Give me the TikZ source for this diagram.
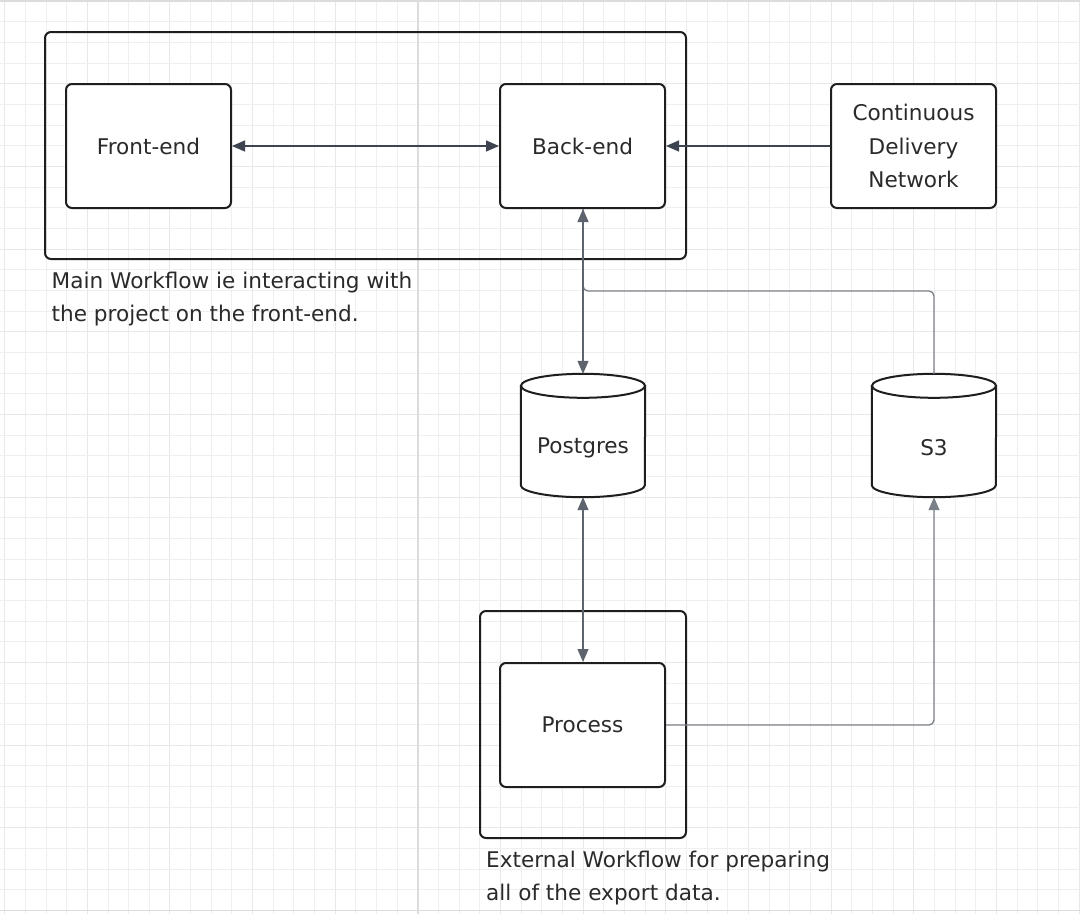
\documentclass[tikz,border=0pt]{standalone}
\usepackage{fontspec}
\setmainfont{DejaVu Sans}
\usetikzlibrary{arrows.meta}
\definecolor{gridminor}{HTML}{EFEFEF}
\definecolor{gridmajor}{HTML}{E8E8E8}
\definecolor{gridpage}{HTML}{DCDCDC}
\definecolor{boxline}{HTML}{1E1E1E}
\definecolor{txt}{HTML}{2A2A2A}
\definecolor{arrowdark}{HTML}{3D4450}
\definecolor{connlight}{HTML}{7B8088}
\definecolor{connmid}{HTML}{5E646E}
\tikzset{
  box/.style={draw=boxline, line width=2pt, rounded corners=6pt, fill=white,
    minimum width=165pt, minimum height=124pt, inner sep=0pt, text=txt,
    font=\fontsize{21.6}{33.5}\selectfont, align=center},
  group/.style={draw=boxline, line width=2pt, rounded corners=6pt, inner sep=0pt},
  cylnode/.style={minimum width=124pt, minimum height=123pt, inner sep=0pt,
    text=txt, font=\fontsize{21.6}{24}\selectfont},
  cylline/.style={draw=boxline, line width=2pt, fill=white},
  note/.style={anchor=base west, inner sep=0pt, text=txt, align=left,
    font=\fontsize{21.6}{33}\selectfont},
  tip/.tip={Triangle[length=13pt,width=11pt]},
  conn/.style={draw=arrowdark, line width=1.3pt, tip-tip},
  connl/.style={draw=connlight, line width=1.3pt, rounded corners=5pt},
}
\newcommand{\cylout}[1]{%
  \path[cylline] ([yshift=-12pt]#1.north west) -- ([yshift=12pt]#1.south west)
    arc[start angle=180, end angle=360, x radius=62pt, y radius=12pt]
    -- ([yshift=-12pt]#1.north east) -- cycle;
  \path[cylline] ([yshift=-12pt]#1.north) ellipse[x radius=62pt, y radius=12pt];
}
\begin{document}
\begin{tikzpicture}[x=1pt, y=-1pt]
\useasboundingbox (0,0) rectangle (1080,914);
\fill[white] (0,0) rectangle (1080,914);
% grid
\foreach \i in {0,...,52} {
  \pgfmathsetmacro{\xx}{4.7+\i*20.66}
  \pgfmathtruncatemacro{\m}{mod(\i,4)}
  \ifnum\m=0
    \draw[gridmajor, line width=1pt] (\xx,0) -- (\xx,914);
  \else
    \draw[gridminor, line width=1pt] (\xx,0) -- (\xx,914);
  \fi
}
\foreach \i in {0,...,44} {
  \pgfmathsetmacro{\yy}{1.3+\i*20.66}
  \pgfmathtruncatemacro{\m}{mod(\i,4)}
  \ifnum\m=0
    \draw[gridmajor, line width=1pt] (0,\yy) -- (1080,\yy);
  \else
    \draw[gridminor, line width=1pt] (0,\yy) -- (1080,\yy);
  \fi
}
\draw[gridpage, line width=1.5pt] (417.9,0) -- (417.9,914);
\draw[gridpage, line width=1.5pt] (0,910.3) -- (1080,910.3);
\draw[gridpage, line width=1.5pt] (0,1) -- (1080,1);

% group boxes
\node[group, minimum width=641pt, minimum height=227pt] (mainwf) at (365.5,145.5) {};
\node[group, minimum width=206pt, minimum height=227pt] (extwf) at (583,724.5) {};

% nodes
\node[box] (front) at (148.5,146) {Front-end};
\node[box] (back) at (582.5,146) {Back-end};
\node[box] (cdn) at (913.5,146) {Continuous\\Delivery\\Network};
\node[box] (proc) at (582.5,725) {Process};

\node[cylnode] (pg) at (583,435.5) {};
\cylout{pg}
\node[cylnode] (pglabel) at ([yshift=-12.5pt]pg.center) {Postgres};
\node[cylnode] (s3) at (934,435.5) {};
\cylout{s3}
\node[cylnode] (s3label) at ([yshift=-12.5pt]s3.center) {S3};

% notes
\node[note] (mainnote) at (51.5,321) {Main Workflow ie interacting with\\the project on the front-end.};
\node[note] (extnote) at (486,900) {External Workflow for preparing\\all of the export data.};

% connectors
\coordinate (join) at (583,291);
\draw[connl] (s3.north) |- (join) -- ([xshift=0.5pt]back.south);
\draw[connl, -tip] (proc.east) -| (s3.south);
\draw[conn] (front.east) -- (back.west);
\draw[conn, -tip] (cdn.west) -- (back.east);
\draw[conn, draw=connmid] ([xshift=0.5pt]back.south) -- (pg.north);
\draw[conn, draw=connmid] (pg.south) -- ([xshift=0.5pt]proc.north);
\end{tikzpicture}
\end{document}
